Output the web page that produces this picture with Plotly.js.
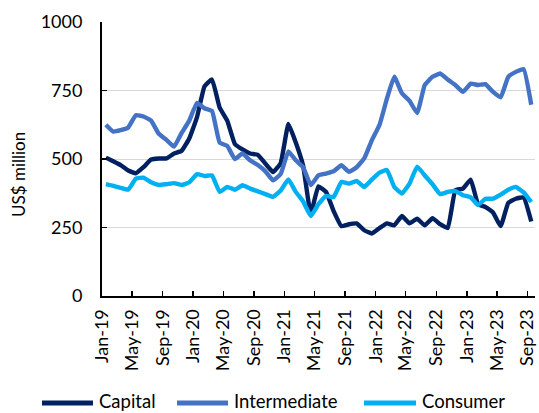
<!DOCTYPE html>
<html>
<head>
<meta charset="utf-8">
<script src="https://cdn.plot.ly/plotly-3.0.1.min.js"></script>
<style>
  html, body { margin: 0; padding: 0; background: #ffffff; }
  #chart { width: 539px; height: 413px; }
</style>
</head>
<body>
<div id="chart"></div>
<script>
// Monthly observations, Jan-2019 .. Sep-2023
const months = [
  '2019-01','2019-02','2019-03','2019-04','2019-05','2019-06','2019-07','2019-08','2019-09','2019-10','2019-11','2019-12',
  '2020-01','2020-02','2020-03','2020-04','2020-05','2020-06','2020-07','2020-08','2020-09','2020-10','2020-11','2020-12',
  '2021-01','2021-02','2021-03','2021-04','2021-05','2021-06','2021-07','2021-08','2021-09','2021-10','2021-11','2021-12',
  '2022-01','2022-02','2022-03','2022-04','2022-05','2022-06','2022-07','2022-08','2022-09','2022-10','2022-11','2022-12',
  '2023-01','2023-02','2023-03','2023-04','2023-05','2023-06','2023-07','2023-08','2023-09'
];

const capital = [
  505, 492, 478, 458, 448, 470, 498, 502, 502, 520, 530, 575,
  653, 765, 790, 688, 640, 555, 535, 520, 515, 483, 452, 485,
  628, 560, 475, 300, 400, 380, 310, 255, 262, 265, 240, 228,
  248, 265, 258, 292, 265, 282, 258, 284, 262, 248, 386, 392,
  425, 335, 325, 305, 255, 340, 355, 360, 272
];

const intermediate = [
  625, 600, 605, 615, 660, 655, 640, 592, 570, 545, 595, 640,
  705, 685, 675, 560, 548, 500, 520, 495, 478, 455, 422, 445,
  528, 495, 470, 405, 440, 447, 455, 477, 453, 470, 502, 568,
  625, 720, 800, 740, 712, 668, 770, 800, 812, 790, 770, 745,
  775, 770, 773, 745, 725, 800, 818, 828, 698
];

const consumer = [
  408, 402, 395, 388, 428, 432, 415, 405, 408, 412, 405, 415,
  445, 438, 440, 380, 398, 388, 404, 392, 382, 372, 362, 385,
  425, 380, 345, 292, 335, 365, 361, 416, 410, 420, 398, 425,
  450, 460, 398, 374, 410, 472, 440, 408, 372, 380, 383, 368,
  360, 332, 355, 355, 370, 388, 398, 378, 343
];

const seriesNames = ['Capital', 'Intermediate', 'Consumer'];
const seriesColors = ['#002060', '#4472C4', '#00B0F0'];
const yTicks = [0, 250, 500, 750, 1000];
const yTitle = 'US$ million';

const FONT = 'Lato, "Open Sans", "DejaVu Sans", sans-serif';

// Plot-area geometry (pixels) used to place the legend and the axis title
const W = 539, H = 413;
const M = { l: 102, r: 4, t: 22, b: 117 };
const PW = W - M.l - M.r, PH = H - M.t - M.b;
const px = v => (v - M.l) / PW;           // pixel x -> paper x
const py = v => (H - M.b - v) / PH;       // pixel y -> paper y

const data = [capital, intermediate, consumer].map((vals, k) => ({
  type: 'scatter',
  mode: 'lines',
  name: seriesNames[k],
  x: months,
  y: vals,
  xperiod: 'M1',
  xperiodalignment: 'middle',
  line: { color: seriesColors[k], width: 4.4, shape: 'spline', smoothing: 0.35 },
  hoverinfo: 'skip',
  showlegend: false
}));

// Legend (manually laid out to match the reference spacing)
const legendSwatchX = [[42, 93], [177, 228], [364, 416]];
const legendY = 401;
const shapes = legendSwatchX.map((s, k) => ({
  type: 'line', xref: 'paper', yref: 'paper',
  x0: px(s[0]), x1: px(s[1]), y0: py(legendY + 2), y1: py(legendY + 2),
  line: { color: seriesColors[k], width: 5 }
}));
const annotations = legendSwatchX.map((s, k) => ({
  xref: 'paper', yref: 'paper',
  x: px(s[1] + 4), y: py(legendY),
  xanchor: 'left', yanchor: 'middle',
  text: seriesNames[k], showarrow: false,
  font: { family: FONT, size: 18.5, color: '#000000' }
}));
annotations.push({
  xref: 'paper', yref: 'paper',
  x: px(19), y: py(175),
  xanchor: 'center', yanchor: 'middle',
  textangle: -90,
  text: yTitle, showarrow: false,
  font: { family: FONT, size: 17, color: '#000000' }
});

const layout = {
  width: W,
  height: H,
  margin: { l: M.l, r: M.r, t: M.t, b: M.b, pad: 0 },
  paper_bgcolor: '#ffffff',
  plot_bgcolor: '#ffffff',
  font: { family: FONT, size: 18, color: '#000000' },
  showlegend: false,
  shapes: shapes,
  annotations: annotations,
  xaxis: {
    type: 'date',
    range: ['2019-01-01', '2023-10-01'],
    tick0: '2019-01-01',
    dtick: 'M4',
    tickformat: '%b-%y',
    tickangle: -90,
    ticks: 'inside',
    ticklen: 5,
    tickwidth: 1.5,
    tickcolor: '#000000',
    showline: true,
    linecolor: '#000000',
    linewidth: 2,
    showgrid: false,
    zeroline: false,
    tickfont: { family: FONT, size: 18, color: '#000000' },
    ticklabelstandoff: 4,
    fixedrange: true
  },
  yaxis: {
    range: [0, 1000],
    tickvals: yTicks,
    ticktext: yTicks.map(String),
    ticks: 'inside',
    ticklen: 5,
    tickwidth: 1.5,
    tickcolor: '#000000',
    showline: true,
    linecolor: '#000000',
    linewidth: 2,
    showgrid: true,
    gridcolor: '#D9D9D9',
    gridwidth: 1,
    zeroline: false,
    tickfont: { family: FONT, size: 18, color: '#000000' },
    ticklabelstandoff: 14,
    fixedrange: true
  }
};

Plotly.newPlot('chart', data, layout, { displayModeBar: false, staticPlot: true });
</script>
</body>
</html>
